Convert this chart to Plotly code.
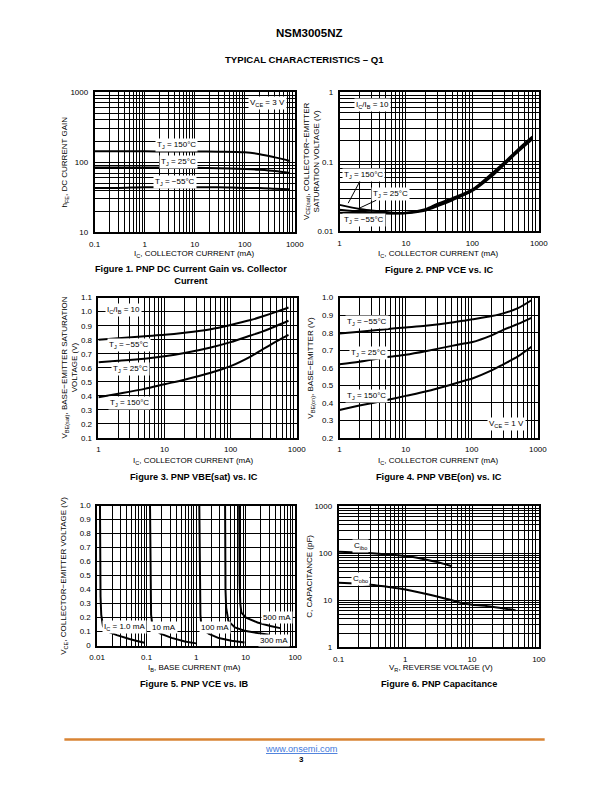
import numpy as np
import plotly.graph_objects as go

W, H = 612, 792
FONT = "Liberation Sans, Arial, Helvetica, sans-serif"

# ---------------- DATA ----------------
# Figure 1: DC current gain
ic1 = [0.1, 0.3, 1, 3, 10, 30, 100, 200, 400, 800]
hfe_150 = [143, 143, 143, 142, 142, 141, 138, 130, 117, 104]
hfe_25 = [84, 84, 84, 84, 83, 82, 80, 78, 75, 70]
hfe_m55 = [43, 43, 44, 44, 44, 44, 43, 43, 42, 41]

# Figure 2: VCE(sat) vs IC
ic2 = [1, 2, 3, 5, 8, 10, 20, 30, 50, 100, 200, 300, 500, 800]
vcesat_150 = [0.024, 0.021, 0.020, 0.019, 0.0183, 0.0185, 0.021, 0.025, 0.030, 0.040, 0.069, 0.097, 0.155, 0.23]
vcesat_25 = [0.0205, 0.0193, 0.0188, 0.0184, 0.0182, 0.0183, 0.0205, 0.024, 0.029, 0.039, 0.066, 0.093, 0.148, 0.22]
vcesat_m55 = [0.0185, 0.0183, 0.0182, 0.0181, 0.0181, 0.0182, 0.020, 0.023, 0.028, 0.038, 0.063, 0.090, 0.142, 0.21]

# Figure 3: VBE(sat) vs IC
ic3 = [1, 2, 5, 10, 20, 50, 100, 200, 300, 500, 750]
vbesat_m55 = [0.80, 0.81, 0.825, 0.835, 0.85, 0.875, 0.905, 0.94, 0.965, 1.0, 1.03]
vbesat_25 = [0.64, 0.65, 0.665, 0.682, 0.705, 0.745, 0.783, 0.83, 0.858, 0.90, 0.935]
vbesat_150 = [0.39, 0.415, 0.45, 0.483, 0.515, 0.565, 0.612, 0.68, 0.729, 0.79, 0.835]

# Figure 4: VBE(on) vs IC
ic4 = [1, 2, 5, 10, 20, 50, 80, 100, 200, 300, 500, 800]
vbeon_m55 = [0.795, 0.805, 0.82, 0.83, 0.84, 0.858, 0.87, 0.876, 0.895, 0.91, 0.94, 0.985]
vbeon_25 = [0.62, 0.635, 0.66, 0.675, 0.695, 0.725, 0.74, 0.746, 0.785, 0.816, 0.85, 0.885]
vbeon_150 = [0.36, 0.385, 0.415, 0.44, 0.465, 0.505, 0.528, 0.538, 0.585, 0.62, 0.665, 0.72]

# Figure 5: VCE vs IB
ib_1mA = [0.0114, 0.0115, 0.0117, 0.0121, 0.0131, 0.015, 0.018, 0.025, 0.033, 0.045, 0.061, 0.09]
vce_1mA = [1.0, 0.6, 0.35, 0.22, 0.14, 0.11, 0.095, 0.075, 0.06, 0.047, 0.035, 0.02]
ib_10mA = [0.117, 0.118, 0.12, 0.123, 0.13, 0.14, 0.19, 0.32, 0.59, 1.0]
vce_10mA = [1.0, 0.6, 0.35, 0.22, 0.15, 0.12, 0.085, 0.055, 0.03, 0.016]
ib_100mA = [1.16, 1.17, 1.19, 1.22, 1.26, 1.34, 1.82, 2.86, 5.2, 9.5]
vce_100mA = [1.0, 0.6, 0.35, 0.22, 0.165, 0.118, 0.083, 0.054, 0.035, 0.023]
ib_300mA = [3.85, 3.87, 3.92, 4.05, 4.49, 6.07, 9.5, 17.4, 29.4]
vce_300mA = [1.0, 0.6, 0.4, 0.27, 0.175, 0.13, 0.106, 0.09, 0.078]
ib_500mA = [7.4, 7.45, 7.55, 7.8, 8.2, 10.2, 17.4, 31.6, 50]
vce_500mA = [1.0, 0.7, 0.45, 0.3, 0.236, 0.2, 0.165, 0.14, 0.125]

# Figure 6: capacitance
vr_ibo = [0.1, 0.2, 0.4, 0.7, 1, 1.5, 2, 3, 4, 5]
c_ibo = [108, 104, 98, 92, 87, 80, 74, 65, 58, 53]
vr_obo = [0.1, 0.3, 0.6, 1, 2, 3, 5, 7, 10, 20, 45]
c_obo = [23.5, 21.5, 19, 17, 13.7, 12, 10, 8.7, 8.05, 7.3, 6.1]

# Tick labels
ticks_x1 = [0.1, 1, 10, 100, 1000]
ticks_x1_text = ["0.1", "1", "10", "100", "1000"]
ticks_y1 = [10, 100, 1000]
ticks_y1_text = ["10", "100", "1000"]
ticks_x2 = [1, 10, 100, 1000]
ticks_x2_text = ["1", "10", "100", "1000"]
ticks_y2 = [0.01, 0.1, 1]
ticks_y2_text = ["0.01", "0.1", "1"]
ticks_y3 = [0.1, 0.2, 0.3, 0.4, 0.5, 0.6, 0.7, 0.8, 0.9, 1.0, 1.1]
ticks_y3_text = ["0.1", "0.2", "0.3", "0.4", "0.5", "0.6", "0.7", "0.8", "0.9", "1.0", "1.1"]
ticks_y4 = [0.2, 0.3, 0.4, 0.5, 0.6, 0.7, 0.8, 0.9, 1.0]
ticks_y4_text = ["0.2", "0.3", "0.4", "0.5", "0.6", "0.7", "0.8", "0.9", "1.0"]
ticks_x5 = [0.01, 0.1, 1, 10, 100]
ticks_x5_text = ["0.01", "0.1", "1", "10", "100"]
ticks_y5 = [0, 0.1, 0.2, 0.3, 0.4, 0.5, 0.6, 0.7, 0.8, 0.9, 1.0]
ticks_y5_text = ["0", "0.1", "0.2", "0.3", "0.4", "0.5", "0.6", "0.7", "0.8", "0.9", "1.0"]
ticks_x6 = [0.1, 1, 10, 100]
ticks_x6_text = ["0.1", "1", "10", "100"]
ticks_y6 = [1, 10, 100, 1000]
ticks_y6_text = ["1", "10", "100", "1000"]

# ---------------- LAYOUT HELPERS ----------------
def dx(a, b):
    return [a / W, b / W]

def dy(top, bottom):
    return [1 - bottom / H, 1 - top / H]

def px(x):
    return x / W

def py(y):
    return 1 - y / H

TICKFONT = dict(family=FONT, size=8, color="black")

def log_axis(dom, lo, hi, tv, tt, anchor):
    return dict(
        domain=dom, type="log", range=[np.log10(lo), np.log10(hi)],
        tickmode="array", tickvals=tv, ticktext=tt, tickfont=TICKFONT,
        ticks="", showgrid=True, gridcolor="black", gridwidth=1,
        minor=dict(dtick="D1", showgrid=True, gridcolor="black", gridwidth=1, ticks=""),
        showline=True, linecolor="black", linewidth=1.5, mirror=True,
        zeroline=False, anchor=anchor, fixedrange=True, ticklabelstandoff=3,
    )

def lin_axis(dom, lo, hi, tv, tt, anchor):
    return dict(
        domain=dom, type="linear", range=[lo, hi],
        tickmode="array", tickvals=tv, ticktext=tt, tickfont=TICKFONT,
        ticks="", showgrid=True, gridcolor="black", gridwidth=1,
        showline=True, linecolor="black", linewidth=1.5, mirror=True,
        zeroline=False, anchor=anchor, fixedrange=True, ticklabelstandoff=3,
    )

fig = go.Figure()

def curve(x, y, n, shape="spline"):
    xa = "x" if n == 1 else f"x{n}"
    ya = "y" if n == 1 else f"y{n}"
    fig.add_trace(go.Scatter(x=x, y=y, xaxis=xa, yaxis=ya, mode="lines",
                             line=dict(color="black", width=2, shape=shape, smoothing=0.8),
                             showlegend=False, hoverinfo="skip"))

# Fig 1
curve(ic1, hfe_150, 1); curve(ic1, hfe_25, 1); curve(ic1, hfe_m55, 1)
# Fig 2
curve(ic2, vcesat_150, 2); curve(ic2, vcesat_25, 2); curve(ic2, vcesat_m55, 2)
# Fig 3
curve(ic3, vbesat_m55, 3); curve(ic3, vbesat_25, 3); curve(ic3, vbesat_150, 3)
# Fig 4
curve(ic4, vbeon_m55, 4); curve(ic4, vbeon_25, 4); curve(ic4, vbeon_150, 4)
# Fig 5
for xs, ys in [(ib_1mA, vce_1mA), (ib_10mA, vce_10mA), (ib_100mA, vce_100mA),
               (ib_300mA, vce_300mA), (ib_500mA, vce_500mA)]:
    curve(xs, ys, 5, shape="linear")
# Fig 6
curve(vr_ibo, c_ibo, 6); curve(vr_obo, c_obo, 6)

layout = dict(
    width=W, height=H, margin=dict(l=0, r=0, t=0, b=0),
    paper_bgcolor="white", plot_bgcolor="white", showlegend=False,
    font=dict(family=FONT, color="black"),
)
layout["xaxis"] = log_axis(dx(89, 295), 0.1, 1000, ticks_x1, ticks_x1_text, "y")
layout["yaxis"] = log_axis(dy(89, 231), 10, 1000, ticks_y1, ticks_y1_text, "x")
layout["xaxis2"] = log_axis(dx(341, 546), 1, 1000, ticks_x2, ticks_x2_text, "y2")
layout["yaxis2"] = log_axis(dy(89, 230), 0.01, 1, ticks_y2, ticks_y2_text, "x2")
layout["xaxis3"] = log_axis(dx(93, 297), 1, 1000, ticks_x2, ticks_x2_text, "y3")
layout["yaxis3"] = lin_axis(dy(297, 439), 0.1, 1.1, ticks_y3, ticks_y3_text, "x3")
layout["xaxis4"] = log_axis(dx(341, 545), 1, 1000, ticks_x2, ticks_x2_text, "y4")
layout["yaxis4"] = lin_axis(dy(297, 439), 0.2, 1.0, ticks_y4, ticks_y4_text, "x4")
layout["xaxis5"] = log_axis(dx(91.7, 295.3), 0.01, 100, ticks_x5, ticks_x5_text, "y5")
layout["yaxis5"] = lin_axis(dy(507.3, 649), 0, 1.0, ticks_y5, ticks_y5_text, "x5")
layout["xaxis6"] = log_axis(dx(340, 546), 0.1, 100, ticks_x6, ticks_x6_text, "y6")
layout["yaxis6"] = log_axis(dy(508, 650.7), 1, 1000, ticks_y6, ticks_y6_text, "x6")
fig.update_layout(**layout)

ann = []
LF = dict(family=FONT, size=8, color="black")

def label(text, x, y, n, logx=True, logy=True, **kw):
    xr = "x" if n == 1 else f"x{n}"
    yr = "y" if n == 1 else f"y{n}"
    d = dict(text=text, x=np.log10(x) if logx else x, y=np.log10(y) if logy else y,
             xref=xr, yref=yr, showarrow=False, font=LF, bgcolor="white", borderpad=1)
    d.update(kw)
    ann.append(d)

def ptext(text, x, y, size=8, bold=False, angle=0, **kw):
    t = f"<b>{text}</b>" if bold else text
    d = dict(text=t, x=px(x), y=py(y), xref="paper", yref="paper", showarrow=False,
             font=dict(family=FONT, size=size, color="black"), textangle=angle,
             xanchor="center", yanchor="middle")
    d.update(kw)
    ann.append(d)

# Fig 1 labels
label("V<sub>CE</sub> = 3 V", 280, 700, 1)
label("T<sub>J</sub> = 150°C", 4.3, 175, 1)
label("T<sub>J</sub> = 25°C", 4.7, 102, 1)
label("T<sub>J</sub> = −55°C", 4.0, 53, 1)
# Fig 2 labels
label("I<sub>C</sub>/I<sub>B</sub> = 10", 3.1, 0.66, 2)
label("T<sub>J</sub> = −55°C", 2.37, 0.0147, 2)
for txt, tx, ty, ax, ay in [("T<sub>J</sub> = 150°C", 1.35, 0.0254, 15, -28),
                            ("T<sub>J</sub> = 25°C", 1.9, 0.0211, 32, -15)]:
    ann.append(dict(text=txt, x=np.log10(tx), y=np.log10(ty), xref="x2", yref="y2",
                    showarrow=True, arrowhead=0, arrowwidth=1, arrowcolor="black",
                    ax=ax, ay=ay, font=LF, bgcolor="white", borderpad=1))
# Fig 3 labels
label("I<sub>C</sub>/I<sub>B</sub> = 10", 2.36, 1.01, 3, logy=False)
label("T<sub>J</sub> = −55°C", 2.95, 0.762, 3, logy=False)
label("T<sub>J</sub> = 25°C", 3.05, 0.593, 3, logy=False)
label("T<sub>J</sub> = 150°C", 3.0, 0.351, 3, logy=False)
# Fig 4 labels
label("T<sub>J</sub> = −55°C", 2.6, 0.861, 4, logy=False)
label("T<sub>J</sub> = 25°C", 2.73, 0.686, 4, logy=False)
label("T<sub>J</sub> = 150°C", 2.6, 0.438, 4, logy=False)
label("V<sub>CE</sub> = 1 V", 340, 0.279, 4, logy=False)
# Fig 5 labels
label("I<sub>C</sub> = 1.0 mA", 0.036, 0.13, 5, logy=False)
label("10 mA", 0.22, 0.13, 5, logy=False)
label("100 mA", 2.45, 0.13, 5, logy=False)
label("300 mA", 37, 0.04, 5, logy=False)
label("500 mA", 43, 0.20, 5, logy=False)
# Fig 6 labels
label("C<sub>ibo</sub>", 0.21, 142, 6)
label("C<sub>obo</sub>", 0.21, 29, 6)

# Axis titles
ptext("I<sub>C</sub>, COLLECTOR CURRENT (mA)", 192, 253)
ptext("I<sub>C</sub>, COLLECTOR CURRENT (mA)", 443, 253)
ptext("I<sub>C</sub>, COLLECTOR CURRENT (mA)", 191, 462.5)
ptext("I<sub>C</sub>, COLLECTOR CURRENT (mA)", 443, 462.5)
ptext("I<sub>B</sub>, BASE CURRENT (mA)", 192, 672)
ptext("V<sub>R</sub>, REVERSE VOLTAGE (V)", 445, 672)

ptext("h<sub>FE</sub>, DC CURRENT GAIN", 59, 160, angle=-90)
ptext("V<sub>CE(sat)</sub>, COLLECTOR−EMITTER<br>SATURATION VOLTAGE (V)", 311.5, 159, angle=-90)
ptext("V<sub>BE(sat)</sub>, BASE−EMITTER SATURATION<br>VOLTAGE (V)", 63.5, 368, angle=-90)
ptext("V<sub>BE(on)</sub>, BASE−EMITTER (V)", 311.5, 368, angle=-90)
ptext("V<sub>CE</sub>, COLLECTOR−EMITTER VOLTAGE (V)", 58, 578, angle=-90)
ptext("C, CAPACITANCE (pF)", 310, 579, angle=-90)

# Captions
CAP = 9.2
ptext("Figure 1. PNP DC Current Gain vs. Collector<br>Current", 188, 274.5, size=CAP, bold=True)
ptext("Figure 2. PNP VCE vs. IC", 443, 269.5, size=CAP, bold=True)
ptext("Figure 3. PNP VBE(sat) vs. IC", 191, 478.5, size=CAP, bold=True)
ptext("Figure 4. PNP VBE(on) vs. IC", 443, 478.5, size=CAP, bold=True)
ptext("Figure 5. PNP VCE vs. IB", 191, 688, size=CAP, bold=True)
ptext("Figure 6. PNP Capacitance", 443, 688, size=CAP, bold=True)

# Header / footer
ptext("NSM3005NZ", 310, 29, size=11.5, bold=True)
ptext("TYPICAL CHARACTERISTICS – Q1", 305, 56, size=9.6, bold=True)
ann.append(dict(text="<a href='http://www.onsemi.com'><u>www.onsemi.com</u></a>",
                x=px(302), y=py(754), xref="paper", yref="paper", showarrow=False,
                font=dict(family=FONT, size=9.2, color="#0000EE"), xanchor="center", yanchor="middle"))
ptext("3", 302, 764, size=8, bold=True)

fig.update_layout(annotations=ann)
fig.add_shape(type="line", xref="paper", yref="paper", x0=px(58), x1=px(552), y0=py(744), y1=py(744),
              line=dict(color="#D98434", width=2.5))

fig.write_html("out.html", config={"displayModeBar": False},
               post_script="document.body.style.margin='0';document.body.style.padding='0';document.body.style.overflow='hidden';")
